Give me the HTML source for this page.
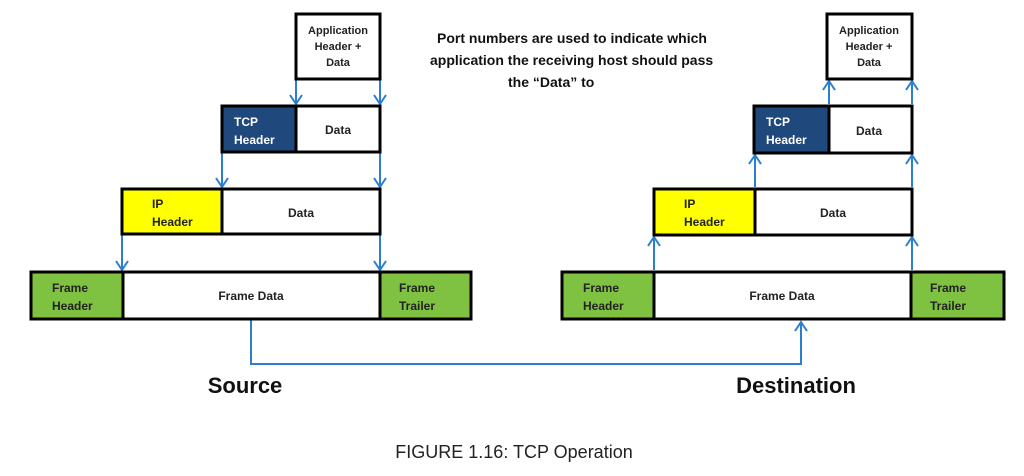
<!DOCTYPE html>
<html><head><style>body{margin:0;background:#fff}svg{display:block}text{font-family:"Liberation Sans",sans-serif;font-weight:bold}</style></head><body>
<svg width="1024" height="476" viewBox="0 0 1024 476">
<defs><marker id="a" markerWidth="12" markerHeight="14" refX="10" refY="7" orient="auto" markerUnits="userSpaceOnUse"><path d="M1,1 L10,7 L1,13" fill="none" stroke="#2a7fd0" stroke-width="2"/></marker></defs>
<g stroke="#2a7fd0" stroke-width="2" fill="none">
<line x1="296" y1="79" x2="296" y2="104" marker-end="url(#a)"/><line x1="380" y1="79" x2="380" y2="104" marker-end="url(#a)"/>
<line x1="222" y1="152" x2="222" y2="187" marker-end="url(#a)"/><line x1="380" y1="152" x2="380" y2="187" marker-end="url(#a)"/>
<line x1="122" y1="234" x2="122" y2="270" marker-end="url(#a)"/><line x1="380" y1="234" x2="380" y2="270" marker-end="url(#a)"/>
<line x1="829" y1="104" x2="829" y2="81" marker-end="url(#a)"/><line x1="912" y1="104" x2="912" y2="81" marker-end="url(#a)"/>
<line x1="755" y1="187" x2="755" y2="155" marker-end="url(#a)"/><line x1="912" y1="187" x2="912" y2="155" marker-end="url(#a)"/>
<line x1="654" y1="270" x2="654" y2="237" marker-end="url(#a)"/><line x1="912" y1="270" x2="912" y2="237" marker-end="url(#a)"/>
<polyline points="251,320 251,364 801,364 801,322" marker-end="url(#a)"/>
</g>
<g stroke="#000" stroke-width="3">
<rect x="296" y="14" width="84" height="65" fill="#fff"/>
<rect x="222" y="106" width="74" height="46" fill="#1f497d"/><rect x="296" y="106" width="84" height="46" fill="#fff"/>
<rect x="122" y="189" width="100" height="45" fill="#ffff00"/><rect x="222" y="189" width="158" height="45" fill="#fff"/>
<rect x="31" y="272" width="92" height="47" fill="#7fc241"/><rect x="123" y="272" width="257" height="47" fill="#fff"/><rect x="380" y="272" width="91" height="47" fill="#7fc241"/>
<rect x="827" y="14" width="85" height="65" fill="#fff"/>
<rect x="754" y="106" width="75" height="47" fill="#1f497d"/><rect x="829" y="106" width="83" height="47" fill="#fff"/>
<rect x="654" y="189" width="101" height="46" fill="#ffff00"/><rect x="755" y="189" width="157" height="46" fill="#fff"/>
<rect x="562" y="272" width="92" height="47" fill="#7fc241"/><rect x="654" y="272" width="257" height="47" fill="#fff"/><rect x="911" y="272" width="93" height="47" fill="#7fc241"/>
</g>
<g font-size="11" text-anchor="middle" fill="#222">
<text x="338" y="34">Application</text><text x="338" y="50">Header +</text><text x="338" y="66">Data</text>
<text x="869" y="34">Application</text><text x="869" y="50">Header +</text><text x="869" y="66">Data</text>
</g>
<g font-size="12" fill="#222">
<text x="234" y="126" fill="#fff">TCP</text><text x="234" y="144" fill="#fff">Header</text>
<text x="766" y="126" fill="#fff">TCP</text><text x="766" y="144" fill="#fff">Header</text>
<text x="152" y="208">IP</text><text x="152" y="226">Header</text>
<text x="684" y="208">IP</text><text x="684" y="226">Header</text>
<text x="52" y="292">Frame</text><text x="52" y="310">Header</text>
<text x="583" y="292">Frame</text><text x="583" y="310">Header</text>
<text x="399" y="292">Frame</text><text x="399" y="310">Trailer</text>
<text x="930" y="292">Frame</text><text x="930" y="310">Trailer</text>
<g text-anchor="middle"><text x="338" y="134">Data</text><text x="869" y="135">Data</text>
<text x="301" y="217">Data</text><text x="833" y="217">Data</text>
<text x="251" y="300">Frame Data</text><text x="782" y="300">Frame Data</text></g>
</g>
<g font-size="14" fill="#111">
<text x="437" y="43">Port numbers are used to indicate which</text>
<text x="430" y="65">application  the receiving host should pass</text>
<text x="508" y="87">the “Data” to</text>
</g>
<text x="245" y="393" font-size="22" text-anchor="middle" fill="#111">Source</text>
<text x="796" y="393" font-size="22" text-anchor="middle" fill="#111">Destination</text>
<text x="514" y="458" font-size="18" text-anchor="middle" style="font-weight:normal" fill="#222">FIGURE 1.16: TCP Operation</text>
</svg>
</body></html>
